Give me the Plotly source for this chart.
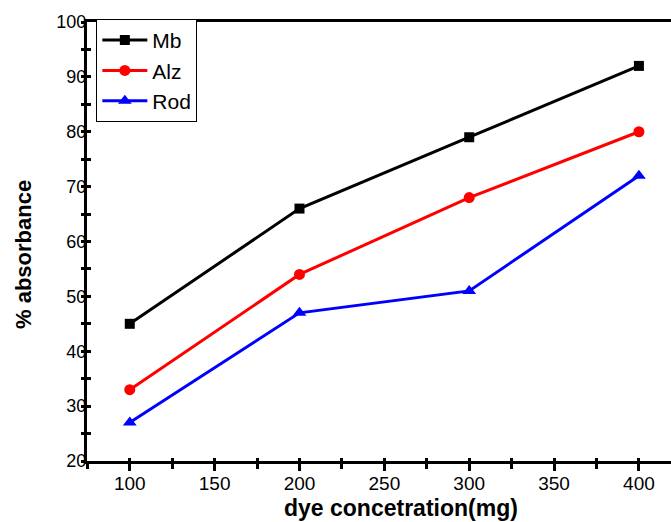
import plotly.graph_objects as go

conc = [100, 200, 300, 400]
mb = [45, 66, 79, 92]
alz = [33, 54, 68, 80]
rod = [27, 47, 51, 72]
x_ticks = [100, 150, 200, 250, 300, 350, 400]
y_ticks = [20, 30, 40, 50, 60, 70, 80, 90, 100]

series = [
    ("Mb", mb, "black", "square", 10),
    ("Alz", alz, "#ff0000", "circle", 11),
    ("Rod", rod, "#0000ff", "triangle-up", 12),
]

fig = go.Figure()
for name, vals, col, sym, ms in series:
    fig.add_trace(go.Scatter(
        x=conc, y=vals, name=name, mode="lines+markers",
        line=dict(color=col, width=3),
        marker=dict(symbol=sym, size=ms, color=col),
    ))
# invisible trace to activate overlay axes (for crossing ticks)
fig.add_trace(go.Scatter(x=[conc[0]], y=[mb[0]], xaxis="x2", yaxis="y2",
                         mode="markers", marker=dict(opacity=0),
                         showlegend=False, hoverinfo="skip"))

xr = [74.8, 418.9]
yr = [20, 100]
font = "Arial, Liberation Sans, sans-serif"

fig.update_layout(
    width=671, height=522,
    margin=dict(l=87, r=0, t=22, b=61, autoexpand=False),
    plot_bgcolor="white", paper_bgcolor="white",
    font=dict(family=font, color="black", size=18),
    showlegend=True,
    legend=dict(x=0.016, y=1.007, xanchor="left", yanchor="top",
                bgcolor="white", bordercolor="black", borderwidth=1,
                font=dict(size=21, family=font), itemwidth=45,
                tracegroupgap=0),
    xaxis=dict(range=xr, showline=True, linecolor="black", linewidth=3,
               mirror=True, showgrid=False, zeroline=False, automargin=False,
               ticks="outside", ticklen=7, tickwidth=3, tickcolor="black",
               tickvals=x_ticks, ticklabelstandoff=-4,
               minor=dict(ticks="outside", ticklen=5, tickwidth=3,
                          tickcolor="black", dtick=25, tick0=0),
               tickfont=dict(size=19)),
    yaxis=dict(range=yr, showline=True, linecolor="black", linewidth=3,
               showgrid=False, zeroline=False, automargin=False,
               ticks="inside", ticklen=4, tickwidth=3, tickcolor="black",
               tickvals=y_ticks,
               minor=dict(ticks="inside", ticklen=4, tickwidth=3,
                          tickcolor="black", dtick=5, tick0=0),
               tickfont=dict(size=18), ticklabelstandoff=-6),
    xaxis2=dict(range=xr, overlaying="x", side="bottom", showline=False,
                showgrid=False, zeroline=False, showticklabels=False,
                automargin=False,
                ticks="inside", ticklen=3, tickwidth=3, tickcolor="black",
                tickvals=x_ticks,
                minor=dict(ticks="inside", ticklen=3, tickwidth=3,
                           tickcolor="black", dtick=25, tick0=0)),
    yaxis2=dict(range=yr, overlaying="y", side="left", showline=False,
                showgrid=False, zeroline=False, showticklabels=False,
                automargin=False,
                ticks="outside", ticklen=5, tickwidth=3, tickcolor="black",
                tickvals=y_ticks,
                minor=dict(ticks="outside", ticklen=5, tickwidth=3,
                           tickcolor="black", dtick=5, tick0=0)),
    annotations=[
        dict(text="<b>dye concetration(mg)</b>", xref="paper", yref="paper",
             x=0.5385, y=-0.139, xanchor="center", yanchor="bottom",
             borderpad=0, showarrow=False, font=dict(size=23, family=font)),
        dict(text="<b>% absorbance</b>", xref="paper", yref="paper",
             x=-0.1096, y=0.4715, xanchor="center", yanchor="middle",
             textangle=-90, showarrow=False, font=dict(size=22, family=font)),
    ],
)

fig.write_html("out.html", config={"displayModeBar": False},
               post_script="document.body.style.margin='0';")
